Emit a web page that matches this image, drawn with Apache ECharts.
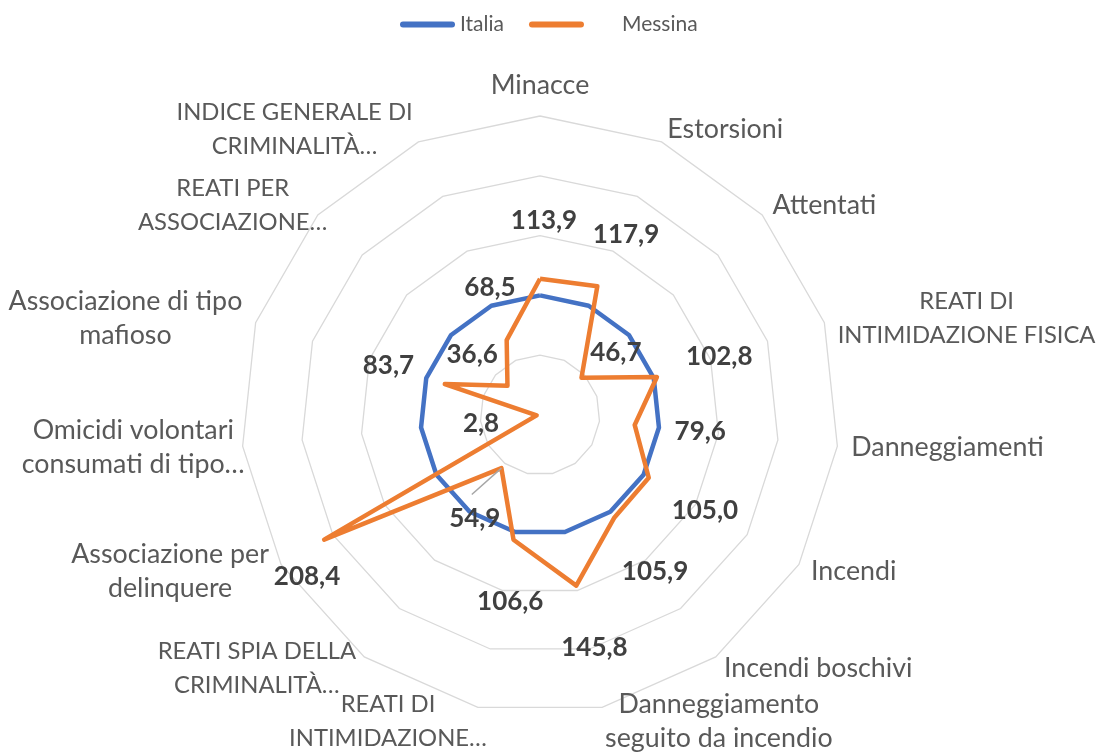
<!DOCTYPE html>
<html>
<head>
<meta charset="utf-8">
<script src="https://cdn.jsdelivr.net/npm/echarts@6/dist/echarts.min.js"></script>
<style>
  html, body { margin: 0; padding: 0; background: #ffffff; }
  #chart { width: 1113px; height: 753px; }
</style>
</head>
<body>
<div id="chart"></div>
<script>
// Indicators, listed clockwise from the top
const indicatorNames = [
  'Minacce',
  'Estorsioni',
  'Attentati',
  'REATI DI\nINTIMIDAZIONE FISICA',
  'Danneggiamenti',
  'Incendi',
  'Incendi boschivi',
  'Danneggiamento\nseguito da incendio',
  'REATI DI\nINTIMIDAZIONE…',
  'REATI SPIA DELLA\nCRIMINALITÀ…',
  'Associazione per\ndelinquere',
  'Omicidi volontari\nconsumati di tipo…',
  'Associazione di tipo\nmafioso',
  'REATI PER\nASSOCIAZIONE…',
  'INDICE GENERALE DI\nCRIMINALITÀ…'
];
const italia  = [100, 100, 100, 100, 100, 100, 100, 100, 100, 100, 100, 100, 100, 100, 100];
const messina = [113.9, 117.9, 46.7, 102.8, 79.6, 105.0, 105.9, 145.8, 106.6, 54.9, 208.4, 2.8, 83.7, 36.6, 68.5];
const seriesNames = ['Italia', 'Messina'];
const axisMax = 250;

// Layout / style
const CENTER = [540, 415];
const RADIUS = 299;
const N = indicatorNames.length;
const STEP = 2 * Math.PI / N;
const BLUE = '#4472C4';
const ORANGE = '#ED7D31';
const NAME_COLOR = '#595959';
const LABEL_COLOR = '#404040';
const FONT = 'Lato, "Open Sans", sans-serif';
const NAME_SIZE = 26.8;       // mixed-case indicator names
const NAME_CAPS_SIZE = 23.8;  // all-caps indicator names

// fine adjustments of single value labels (px)
const labelNudge = {
  0: [4, -1], 1: [4, 4], 2: [-13, 18], 6: [4, 4], 7: [6, 4], 8: [9, 4],
  9: [10, 0], 10: [39, 5], 11: [10, 1], 12: [6, 2], 13: [12, 12], 14: [8, 3]
};
// horizontal shift of some indicator names (px)
const nameShift = { 8: 12, 11: 16, 13: 20 };
// labels joined to their point by a leader line
const leaderLines = [9];

// ECharts lays radar indicators out counter-clockwise; feed them reversed
const order = [0].concat(Array.from({ length: N - 1 }, (_, k) => N - 1 - k));

function fmt(v) { return v.toFixed(1).replace('.', ','); }

function labelOffset(idx) {
  const a = idx * STEP;
  const sx = Math.sin(a), sy = -Math.cos(a);
  const d = 57 + 9 * Math.abs(sx);
  const n = labelNudge[idx] || [0, 0];
  return [sx * d + n[0], sy * d + n[1]];
}

function vertex(idx, value) {
  const a = idx * STEP, r = value / axisMax * RADIUS;
  return [CENTER[0] + r * Math.sin(a), CENTER[1] - r * Math.cos(a)];
}

// rich styles for indicator names: centred lines, caps lines a bit smaller
function nameStyle(size, shift) {
  const s = { align: 'center', color: NAME_COLOR, fontSize: size, fontFamily: FONT, lineHeight: 34 };
  if (shift > 0) s.padding = [0, -shift, 0, 0];
  if (shift < 0) s.padding = [0, 0, 0, shift];
  return s;
}
const nameRich = { c: nameStyle(NAME_SIZE, 0), u: nameStyle(NAME_CAPS_SIZE, 0) };
Object.keys(nameShift).forEach(function (k) {
  nameRich['c' + k] = nameStyle(NAME_SIZE, nameShift[k]);
  nameRich['u' + k] = nameStyle(NAME_CAPS_SIZE, nameShift[k]);
});

const chart = echarts.init(document.getElementById('chart'), null, { renderer: 'canvas' });

const capsule = 'path://M3,0 L52,0 A3,3 0 0 1 52,6 L3,6 A3,3 0 0 1 3,0 Z';

const leaderGraphics = leaderLines.map(function (idx) {
  const p = vertex(idx, messina[idx]);
  const o = labelOffset(idx);
  const end = [p[0] + o[0] - 3, p[1] + o[1] - 24];
  return {
    type: 'line',
    z: 10,
    shape: { x1: p[0], y1: p[1], x2: end[0], y2: end[1] },
    style: { stroke: '#A6A6A6', lineWidth: 1.5 }
  };
});

const option = {
  animation: false,
  textStyle: { fontFamily: FONT },
  legend: {
    left: 395,
    top: 9,
    itemWidth: 55,
    itemHeight: 6,
    itemGap: 25,
    textStyle: { color: NAME_COLOR, fontSize: 21, fontFamily: FONT },
    data: [
      { name: seriesNames[0], icon: capsule },
      { name: seriesNames[1], icon: capsule, textStyle: { padding: [0, 0, 0, 33] } }
    ]
  },
  radar: {
    center: CENTER,
    radius: RADIUS,
    startAngle: 90,
    shape: 'polygon',
    splitNumber: 5,
    indicator: order.map(i => ({ name: indicatorNames[i], min: 0, max: axisMax })),
    axisNameGap: 14,
    axisName: {
      color: NAME_COLOR,
      fontSize: NAME_SIZE,
      fontFamily: FONT,
      lineHeight: 34,
      formatter: function (name) {
        const idx = indicatorNames.indexOf(name);
        const suffix = nameShift[idx] ? String(idx) : '';
        return name.split('\n').map(function (line) {
          const caps = line === line.toUpperCase();
          return '{' + (caps ? 'u' : 'c') + suffix + '|' + line + '}';
        }).join('\n');
      },
      rich: nameRich
    },
    axisLine: { show: false },
    axisTick: { show: false },
    axisLabel: { show: false },
    splitLine: { lineStyle: { color: '#D9D9D9', width: 1.3 } },
    splitArea: { show: false }
  },
  series: [{
    type: 'radar',
    labelLayout: function (params) {
      const r = params.rect;
      const x = r.x + r.width / 2, y = r.y + r.height / 2;
      const a = Math.atan2(x - CENTER[0], CENTER[1] - y);
      const idx = ((Math.round(a / STEP) % N) + N) % N;
      const o = labelOffset(idx);
      return { dx: o[0], dy: o[1] };
    },
    data: [
      {
        name: seriesNames[0],
        value: order.map(i => italia[i]),
        symbol: 'none',
        itemStyle: { color: BLUE },
        lineStyle: { color: BLUE, width: 4.5 },
        label: { show: false }
      },
      {
        name: seriesNames[1],
        value: order.map(i => messina[i]),
        symbol: 'circle',
        symbolSize: 0,
        itemStyle: { color: ORANGE },
        lineStyle: { color: ORANGE, width: 4.5 },
        label: {
          show: true,
          position: 'inside',
          color: LABEL_COLOR,
          fontSize: 26,
          fontWeight: 'bold',
          fontFamily: FONT,
          formatter: p => fmt(p.value)
        }
      }
    ]
  }],
  graphic: leaderGraphics
};

chart.setOption(option);
</script>
</body>
</html>
